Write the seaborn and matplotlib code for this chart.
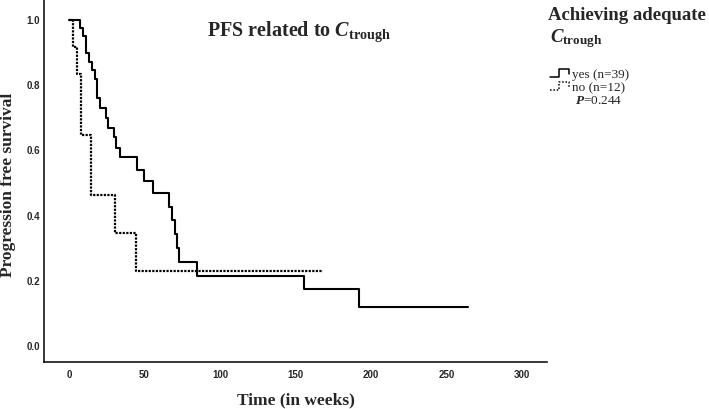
import matplotlib
matplotlib.use("Agg")
import matplotlib.pyplot as plt
from matplotlib.lines import Line2D
import seaborn as sns
import pandas as pd

# ---- data ----
yes_weeks = [0, 7.5, 9, 11.3, 13.5, 15, 17, 18.7, 20.3, 24.3, 25.6, 29.5, 31, 33.8,
             45.2, 49.7, 55.8, 66.3, 68.3, 70.3, 71.8, 73, 85, 155.5, 192, 264]
yes_surv = [1.0, 0.975, 0.951, 0.900, 0.872, 0.846, 0.820, 0.762, 0.731, 0.700, 0.669,
            0.641, 0.608, 0.579, 0.541, 0.505, 0.470, 0.427, 0.386, 0.344, 0.300,
            0.259, 0.216, 0.174, 0.119, 0.119]
no_weeks = [0, 2.4, 5, 7.7, 14.6, 30.5, 44.6, 168]
no_surv = [1.0, 0.917, 0.833, 0.648, 0.463, 0.347, 0.231, 0.231]
x_ticks = [0, 50, 100, 150, 200, 250, 300]
y_ticks = [0.0, 0.2, 0.4, 0.6, 0.8, 1.0]
legend_labels = ["yes (n=39)", "no (n=12)"]
p_value = "0.244"

sns.set_style("white")
plt.rcParams["font.family"] = ["Liberation Serif", "DejaVu Serif"]
plt.rcParams["mathtext.fontset"] = "custom"
plt.rcParams["mathtext.it"] = "Liberation Serif:italic:bold"
plt.rcParams["mathtext.rm"] = "Liberation Serif:bold"
plt.rcParams["mathtext.bf"] = "Liberation Serif:bold"

W, H = 709, 409
fig = plt.figure(figsize=(W / 100, H / 100), dpi=100)

def fx(px):
    return px / W

def fy(py):
    return 1 - py / H

ax = fig.add_axes([fx(44), fy(362), fx(547) - fx(44), fy(0) - fy(362)])

df_yes = pd.DataFrame({"week": yes_weeks, "surv": yes_surv})
df_no = pd.DataFrame({"week": no_weeks, "surv": no_surv})
sns.lineplot(data=df_yes, x="week", y="surv", ax=ax, drawstyle="steps-post",
             color="black", lw=1.5, sort=False, estimator=None)
sns.lineplot(data=df_no, x="week", y="surv", ax=ax, drawstyle="steps-post",
             color="black", lw=1.6, sort=False, estimator=None,
             linestyle=(0, (1.0, 0.6)))

ax.set_xlim(-16.6, 316.6)
ax.set_ylim(-0.049, 1.061)
ax.set_xticks(x_ticks)
ax.set_yticks(y_ticks)
ax.set_yticklabels([f"{v:.1f}" for v in y_ticks])
ax.set_xticklabels([str(v) for v in x_ticks])
for lab in ax.get_xticklabels() + ax.get_yticklabels():
    lab.set_fontfamily("Liberation Sans")
    lab.set_fontweight("bold")
    lab.set_fontsize(7)
ax.tick_params(axis="both", length=0)
ax.tick_params(axis="y", pad=3)
ax.tick_params(axis="x", pad=6)
ax.set_xlabel("")
ax.set_ylabel("")
for s in ["top", "right"]:
    ax.spines[s].set_visible(False)
for s in ["left", "bottom"]:
    ax.spines[s].set_color("black")
    ax.spines[s].set_linewidth(1.1)

# axis labels
fig.text(fx(296), fy(404), "Time (in weeks)", ha="center", va="baseline",
         fontsize=12.5, fontweight="bold")
fig.text(fx(8), fy(185), "Progression free survival", ha="center", va="center",
         rotation=90, fontsize=12.5, fontweight="bold")

# title
fig.text(fx(207), fy(36), r"PFS related to $C_{\mathrm{trough}}$", ha="left",
         va="baseline", fontsize=14.5, fontweight="bold")

# legend title
fig.text(fx(548), fy(20), "Achieving adequate", ha="left", va="baseline",
         fontsize=13.5, fontweight="bold")
fig.text(fx(550), fy(42), r"$C_{\mathrm{trough}}$", ha="left", va="baseline",
         fontsize=13.5)

# legend entries with step-shaped icons
icon_x = [550, 559, 559, 569, 569]
icon_yes_y = [77, 77, 69, 69, 74]
icon_no_y = [90, 90, 82, 82, 87]
fig.add_artist(Line2D([fx(v) for v in icon_x], [fy(v) for v in icon_yes_y],
                      color="black", lw=1.1, transform=fig.transFigure))
fig.add_artist(Line2D([fx(v) for v in icon_x], [fy(v) for v in icon_no_y],
                      color="black", lw=1.1, linestyle=(0, (1, 1.2)),
                      transform=fig.transFigure))
fig.text(fx(572), fy(78), legend_labels[0], ha="left", va="baseline", fontsize=9.5)
fig.text(fx(572), fy(91), legend_labels[1], ha="left", va="baseline", fontsize=9.5)
fig.text(fx(575), fy(104), r"$\mathit{P}$" + "=" + p_value, ha="left",
         va="baseline", fontsize=9.5)

fig.savefig("out.png", dpi=100)
